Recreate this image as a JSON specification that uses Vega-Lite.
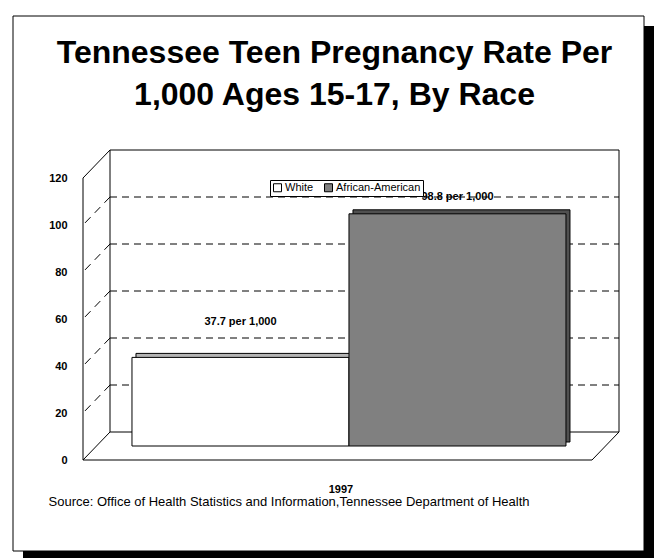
{
  "$schema": "https://vega.github.io/schema/vega-lite/v6.json",
  "width": 509,
  "height": 282,
  "autosize": {"type": "none"},
  "padding": {"left": 110, "top": 150, "right": 36, "bottom": 126},
  "background": "white",
  "config": {
    "view": {"stroke": null},
    "font": "Liberation Sans"
  },
  "title": {
    "text": ["Tennessee Teen Pregnancy Rate Per", "1,000 Ages 15-17, By Race"],
    "font": "Liberation Sans",
    "fontSize": 32,
    "fontWeight": "bold",
    "color": "black",
    "lineHeight": 42,
    "anchor": "middle",
    "dx": -30,
    "offset": -96,
    "zindex": 1
  },
  "data": {
    "values": [
      {"year": "1997", "race": "White", "rate": 37.7, "label": "37.7 per 1,000"},
      {"year": "1997", "race": "African-American", "rate": 98.8, "label": "98.8 per 1,000"}
    ]
  },
  "layer": [
    {
      "data": {"values": [{}]},
      "mark": {"type": "rect", "fill": "black", "xOffset": -87, "x2Offset": 35, "yOffset": -124, "y2Offset": 129},
      "encoding": {"x": {"value": 0}, "x2": {"value": "width"}, "y": {"value": 0}, "y2": {"value": "height"}}
    },
    {
      "data": {"values": [{}]},
      "mark": {"type": "rect", "fill": "white", "stroke": "black", "strokeWidth": 1, "xOffset": -97, "x2Offset": 25, "yOffset": -134, "y2Offset": 119},
      "encoding": {"x": {"value": 0}, "x2": {"value": "width"}, "y": {"value": 0}, "y2": {"value": "height"}}
    },
    {
      "data": {"values": [{}]},
      "mark": {"type": "rect", "filled": false, "stroke": "black", "strokeWidth": 1},
      "encoding": {"x": {"value": 0}, "x2": {"value": "width"}, "y": {"value": 0}, "y2": {"value": "height"}}
    },
    {
      "data": {"values": [{"level": 20}, {"level": 40}, {"level": 60}, {"level": 80}, {"level": 100}]},
      "mark": {"type": "rule", "color": "black", "strokeWidth": 1, "strokeDash": [7, 5]},
      "encoding": {
        "x": {"value": 0}, "x2": {"value": "width"},
        "y": {"field": "level", "type": "quantitative", "scale": {"domain": [0, 120], "nice": false}}
      }
    },
    {
      "data": {"values": [{"level": 0}, {"level": 120}]},
      "mark": {"type": "rule", "color": "black", "strokeWidth": 1, "x2Offset": -27, "y2Offset": 28},
      "encoding": {
        "x": {"value": 0}, "x2": {"value": 0},
        "y": {"field": "level", "type": "quantitative", "scale": {"domain": [0, 120], "nice": false}},
        "y2": {"field": "level"}
      }
    },
    {
      "data": {"values": [{"level": 20}, {"level": 40}, {"level": 60}, {"level": 80}, {"level": 100}]},
      "mark": {"type": "rule", "color": "black", "strokeWidth": 1, "strokeDash": [8, 6], "x2Offset": -27, "y2Offset": 28},
      "encoding": {
        "x": {"value": 0}, "x2": {"value": 0},
        "y": {"field": "level", "type": "quantitative", "scale": {"domain": [0, 120], "nice": false}},
        "y2": {"field": "level"}
      }
    },
    {
      "data": {"values": [{}]},
      "mark": {"type": "rule", "color": "black", "strokeWidth": 1, "xOffset": -27, "yOffset": 28, "y2Offset": 28},
      "encoding": {"x": {"value": 0}, "y": {"datum": 0, "type": "quantitative"}, "y2": {"datum": 120}}
    },
    {
      "data": {"values": [{}]},
      "mark": {"type": "rule", "color": "black", "strokeWidth": 1, "xOffset": -27, "x2Offset": -27, "yOffset": 28},
      "encoding": {"x": {"value": 0}, "x2": {"value": "width"}, "y": {"datum": 0, "type": "quantitative"}}
    },
    {
      "data": {"values": [{}]},
      "mark": {"type": "rule", "color": "black", "strokeWidth": 1, "x2Offset": -27, "y2Offset": 28},
      "encoding": {"x": {"value": "width"}, "x2": {"value": "width"}, "y": {"datum": 0, "type": "quantitative"}, "y2": {"datum": 0}}
    },
    {
      "mark": {"type": "bar", "stroke": "black", "strokeWidth": 1, "xOffset": 4, "x2Offset": 4, "yOffset": 10, "y2Offset": 10},
      "encoding": {
        "x": {"field": "race", "type": "nominal", "sort": ["White", "African-American"], "scale": {"type": "band", "paddingInner": 0, "paddingOuter": 0.1728, "align": 0.293}, "axis": null},
        "y": {"field": "rate", "type": "quantitative", "scale": {"domain": [0, 120], "nice": false}},
        "fill": {"field": "race", "type": "nominal", "sort": ["White", "African-American"], "scale": {"domain": ["White", "African-American"], "range": ["#b4b4b4", "#505050"]}, "legend": null}
      }
    },
    {
      "mark": {"type": "bar", "stroke": "black", "strokeWidth": 1, "yOffset": 14, "y2Offset": 14},
      "encoding": {
        "x": {
          "field": "year", "type": "nominal",
          "scale": {"paddingInner": 0, "paddingOuter": 0.0864, "align": 0.293},
          "axis": {
            "domain": false, "ticks": false, "labelAngle": 0,
            "labelFont": "Liberation Sans", "labelFontSize": 11, "labelFontWeight": "bold", "labelColor": "black",
            "labelPadding": 51, "labelOffset": -8,
            "title": "Source: Office of Health Statistics and Information,Tennessee Department of Health",
            "titleFont": "Liberation Sans", "titleFontSize": 13, "titleFontWeight": "normal", "titleColor": "black",
            "titleAnchor": "start", "titleAlign": "left", "titleBaseline": "alphabetic",
            "titleX": -62, "titleY": 73, "zindex": 1
          }
        },
        "xOffset": {"field": "race", "type": "nominal", "sort": ["White", "African-American"], "scale": {"paddingInner": 0, "paddingOuter": 0}},
        "y": {
          "field": "rate", "type": "quantitative",
          "scale": {"domain": [0, 120], "nice": false},
          "axis": {
            "values": [0, 20, 40, 60, 80, 100, 120],
            "domain": false, "ticks": false, "grid": false, "title": null,
            "offset": 27, "labelPadding": 16, "labelOffset": 28,
            "labelFont": "Liberation Sans", "labelFontSize": 11, "labelFontWeight": "bold", "labelColor": "black",
            "zindex": 1
          }
        },
        "fill": {
          "field": "race", "type": "nominal", "sort": ["White", "African-American"],
          "scale": {"domain": ["White", "African-American"], "range": ["#ffffff", "#808080"]},
          "legend": {
            "title": null, "orient": "none", "legendX": 160, "legendY": 30, "direction": "horizontal",
            "symbolType": "square", "symbolSize": 64, "symbolStrokeColor": "black", "symbolStrokeWidth": 1,
            "labelFont": "Liberation Sans", "labelFontSize": 11, "labelColor": "black", "labelOffset": 2,
            "columnPadding": 8, "padding": 2, "strokeColor": "black", "fillColor": "white", "zindex": 1
          }
        }
      }
    },
    {
      "transform": [{"filter": "datum.race === 'White'"}],
      "mark": {"type": "text", "font": "Liberation Sans", "fontSize": 11, "fontWeight": "bold", "color": "black", "dy": -21, "baseline": "middle", "align": "center"},
      "encoding": {
        "x": {"field": "race", "type": "nominal", "sort": ["White", "African-American"], "scale": {"type": "band", "domain": ["White", "African-American"], "paddingInner": 0, "paddingOuter": 0.1728, "align": 0.293}, "axis": null},
        "y": {"field": "rate", "type": "quantitative", "scale": {"domain": [0, 120], "nice": false}},
        "text": {"field": "label"}
      }
    },
    {
      "transform": [{"filter": "datum.race === 'African-American'"}],
      "mark": {"type": "text", "font": "Liberation Sans", "fontSize": 11, "fontWeight": "bold", "color": "black", "dy": -3, "baseline": "middle", "align": "center"},
      "encoding": {
        "x": {"field": "race", "type": "nominal", "sort": ["White", "African-American"], "scale": {"type": "band", "domain": ["White", "African-American"], "paddingInner": 0, "paddingOuter": 0.1728, "align": 0.293}, "axis": null},
        "y": {"field": "rate", "type": "quantitative", "scale": {"domain": [0, 120], "nice": false}},
        "text": {"field": "label"}
      }
    }
  ],
  "resolve": {"scale": {"fill": "independent", "x": "independent"}}
}
